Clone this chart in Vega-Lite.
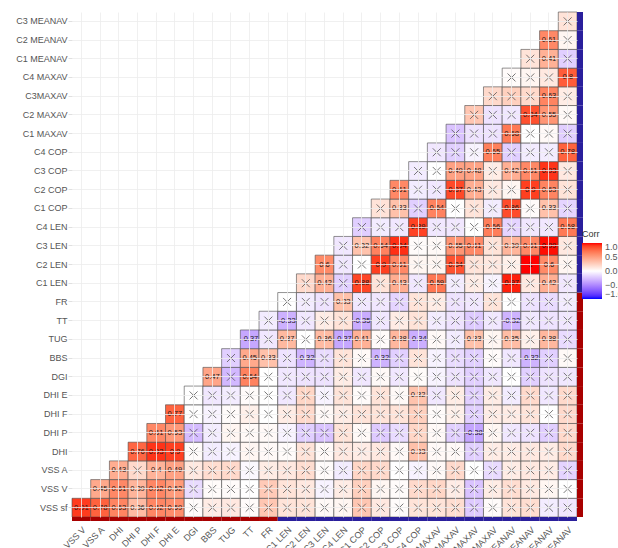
{
"$schema":"https://vega.github.io/schema/vega-lite/v6.json",
"width":505,"height":505,
"autosize":{"type":"none"},
"padding":{"left":72,"top":12,"right":41,"bottom":31},
"background":"white",
"config":{"view":{"stroke":null},"font":"Liberation Sans","text":{"font":"Liberation Sans"}},
"datasets":{
"cells":[
{"row":"VSS sf","col":"VSS V","r":0.91,"sig":1},{"row":"VSS sf","col":"VSS A","r":0.78,"sig":1},{"row":"VSS sf","col":"DHI","r":0.63,"sig":1},{"row":"VSS sf","col":"DHI P","r":0.36,"sig":1},{"row":"VSS sf","col":"DHI F","r":0.62,"sig":1},{"row":"VSS sf","col":"DHI E","r":0.59,"sig":1},{"row":"VSS sf","col":"DGI","r":0.02,"sig":0},{"row":"VSS sf","col":"BBS","r":0.1,"sig":0},{"row":"VSS sf","col":"TUG","r":0.12,"sig":0},{"row":"VSS sf","col":"TT","r":0.02,"sig":0},{"row":"VSS sf","col":"FR","r":0.3,"sig":0},{"row":"VSS sf","col":"C1 LEN","r":0.15,"sig":0},{"row":"VSS sf","col":"C2 LEN","r":0.15,"sig":0},{"row":"VSS sf","col":"C3 LEN","r":0.03,"sig":0},{"row":"VSS sf","col":"C4 LEN","r":0.05,"sig":0},{"row":"VSS sf","col":"C1 COP","r":0.3,"sig":0},{"row":"VSS sf","col":"C2 COP","r":0.12,"sig":0},{"row":"VSS sf","col":"C3 COP","r":0.02,"sig":0},{"row":"VSS sf","col":"C4 COP","r":0.15,"sig":0},{"row":"VSS sf","col":"C1 MAXAV","r":0.15,"sig":0},{"row":"VSS sf","col":"C2 MAXAV","r":0.18,"sig":0},{"row":"VSS sf","col":"C3MAXAV","r":-0.22,"sig":0},{"row":"VSS sf","col":"C4 MAXAV","r":0.02,"sig":0},{"row":"VSS sf","col":"C1 MEANAV","r":0.15,"sig":0},{"row":"VSS sf","col":"C2 MEANAV","r":0.18,"sig":0},{"row":"VSS sf","col":"C3 MEANAV","r":-0.08,"sig":0},{"row":"VSS sf","col":"C4 MEANAV","r":-0.1,"sig":0},
{"row":"VSS V","col":"VSS A","r":0.45,"sig":1},{"row":"VSS V","col":"DHI","r":0.61,"sig":1},{"row":"VSS V","col":"DHI P","r":0.39,"sig":1},{"row":"VSS V","col":"DHI F","r":0.62,"sig":1},{"row":"VSS V","col":"DHI E","r":0.52,"sig":1},{"row":"VSS V","col":"DGI","r":-0.15,"sig":0},{"row":"VSS V","col":"BBS","r":0.02,"sig":0},{"row":"VSS V","col":"TUG","r":0.02,"sig":0},{"row":"VSS V","col":"TT","r":0.0,"sig":0},{"row":"VSS V","col":"FR","r":0.28,"sig":0},{"row":"VSS V","col":"C1 LEN","r":0.15,"sig":0},{"row":"VSS V","col":"C2 LEN","r":0.12,"sig":0},{"row":"VSS V","col":"C3 LEN","r":-0.05,"sig":0},{"row":"VSS V","col":"C4 LEN","r":0.1,"sig":0},{"row":"VSS V","col":"C1 COP","r":0.25,"sig":0},{"row":"VSS V","col":"C2 COP","r":0.05,"sig":0},{"row":"VSS V","col":"C3 COP","r":0.02,"sig":0},{"row":"VSS V","col":"C4 COP","r":0.2,"sig":0},{"row":"VSS V","col":"C1 MAXAV","r":0.22,"sig":0},{"row":"VSS V","col":"C2 MAXAV","r":0.1,"sig":0},{"row":"VSS V","col":"C3MAXAV","r":-0.25,"sig":0},{"row":"VSS V","col":"C4 MAXAV","r":0.1,"sig":0},{"row":"VSS V","col":"C1 MEANAV","r":0.18,"sig":0},{"row":"VSS V","col":"C2 MEANAV","r":0.12,"sig":0},{"row":"VSS V","col":"C3 MEANAV","r":0.05,"sig":0},{"row":"VSS V","col":"C4 MEANAV","r":0.0,"sig":0},
{"row":"VSS A","col":"DHI","r":0.43,"sig":1},{"row":"VSS A","col":"DHI P","r":0.2,"sig":0},{"row":"VSS A","col":"DHI F","r":0.4,"sig":1},{"row":"VSS A","col":"DHI E","r":0.49,"sig":1},{"row":"VSS A","col":"DGI","r":0.12,"sig":0},{"row":"VSS A","col":"BBS","r":0.18,"sig":0},{"row":"VSS A","col":"TUG","r":0.2,"sig":0},{"row":"VSS A","col":"TT","r":-0.03,"sig":0},{"row":"VSS A","col":"FR","r":0.1,"sig":0},{"row":"VSS A","col":"C1 LEN","r":0.12,"sig":0},{"row":"VSS A","col":"C2 LEN","r":0.18,"sig":0},{"row":"VSS A","col":"C3 LEN","r":0.02,"sig":0},{"row":"VSS A","col":"C4 LEN","r":-0.08,"sig":0},{"row":"VSS A","col":"C1 COP","r":0.22,"sig":0},{"row":"VSS A","col":"C2 COP","r":0.2,"sig":0},{"row":"VSS A","col":"C3 COP","r":0.0,"sig":0},{"row":"VSS A","col":"C4 COP","r":-0.05,"sig":0},{"row":"VSS A","col":"C1 MAXAV","r":0.03,"sig":0},{"row":"VSS A","col":"C2 MAXAV","r":0.2,"sig":0},{"row":"VSS A","col":"C3MAXAV","r":0.0,"sig":0},{"row":"VSS A","col":"C4 MAXAV","r":-0.15,"sig":0},{"row":"VSS A","col":"C1 MEANAV","r":0.1,"sig":0},{"row":"VSS A","col":"C2 MEANAV","r":0.12,"sig":0},{"row":"VSS A","col":"C3 MEANAV","r":0.1,"sig":0},{"row":"VSS A","col":"C4 MEANAV","r":-0.18,"sig":0},
{"row":"DHI","col":"DHI P","r":0.76,"sig":1},{"row":"DHI","col":"DHI F","r":0.93,"sig":1},{"row":"DHI","col":"DHI E","r":0.9,"sig":1},{"row":"DHI","col":"DGI","r":0.02,"sig":0},{"row":"DHI","col":"BBS","r":-0.08,"sig":0},{"row":"DHI","col":"TUG","r":-0.05,"sig":0},{"row":"DHI","col":"TT","r":0.05,"sig":0},{"row":"DHI","col":"FR","r":0.03,"sig":0},{"row":"DHI","col":"C1 LEN","r":0.02,"sig":0},{"row":"DHI","col":"C2 LEN","r":0.15,"sig":0},{"row":"DHI","col":"C3 LEN","r":0.03,"sig":0},{"row":"DHI","col":"C4 LEN","r":0.12,"sig":0},{"row":"DHI","col":"C1 COP","r":0.1,"sig":0},{"row":"DHI","col":"C2 COP","r":0.12,"sig":0},{"row":"DHI","col":"C3 COP","r":0.03,"sig":0},{"row":"DHI","col":"C4 COP","r":0.33,"sig":1},{"row":"DHI","col":"C1 MAXAV","r":0.03,"sig":0},{"row":"DHI","col":"C2 MAXAV","r":0.03,"sig":0},{"row":"DHI","col":"C3MAXAV","r":-0.2,"sig":0},{"row":"DHI","col":"C4 MAXAV","r":0.1,"sig":0},{"row":"DHI","col":"C1 MEANAV","r":0.1,"sig":0},{"row":"DHI","col":"C2 MEANAV","r":0.12,"sig":0},{"row":"DHI","col":"C3 MEANAV","r":0.1,"sig":0},{"row":"DHI","col":"C4 MEANAV","r":0.2,"sig":0},
{"row":"DHI P","col":"DHI F","r":0.61,"sig":1},{"row":"DHI P","col":"DHI E","r":0.53,"sig":1},{"row":"DHI P","col":"DGI","r":-0.28,"sig":0},{"row":"DHI P","col":"BBS","r":-0.08,"sig":0},{"row":"DHI P","col":"TUG","r":0.05,"sig":0},{"row":"DHI P","col":"TT","r":0.03,"sig":0},{"row":"DHI P","col":"FR","r":0.03,"sig":0},{"row":"DHI P","col":"C1 LEN","r":-0.05,"sig":0},{"row":"DHI P","col":"C2 LEN","r":-0.2,"sig":0},{"row":"DHI P","col":"C3 LEN","r":-0.25,"sig":0},{"row":"DHI P","col":"C4 LEN","r":0.15,"sig":0},{"row":"DHI P","col":"C1 COP","r":0.03,"sig":0},{"row":"DHI P","col":"C2 COP","r":-0.22,"sig":0},{"row":"DHI P","col":"C3 COP","r":-0.15,"sig":0},{"row":"DHI P","col":"C4 COP","r":0.22,"sig":0},{"row":"DHI P","col":"C1 MAXAV","r":0.03,"sig":0},{"row":"DHI P","col":"C2 MAXAV","r":-0.2,"sig":0},{"row":"DHI P","col":"C3MAXAV","r":-0.38,"sig":1},{"row":"DHI P","col":"C4 MAXAV","r":0.05,"sig":0},{"row":"DHI P","col":"C1 MEANAV","r":-0.1,"sig":0},{"row":"DHI P","col":"C2 MEANAV","r":-0.12,"sig":0},{"row":"DHI P","col":"C3 MEANAV","r":-0.2,"sig":0},{"row":"DHI P","col":"C4 MEANAV","r":0.2,"sig":0},
{"row":"DHI F","col":"DHI E","r":0.77,"sig":1},{"row":"DHI F","col":"DGI","r":0.0,"sig":0},{"row":"DHI F","col":"BBS","r":-0.05,"sig":0},{"row":"DHI F","col":"TUG","r":0.02,"sig":0},{"row":"DHI F","col":"TT","r":0.08,"sig":0},{"row":"DHI F","col":"FR","r":0.0,"sig":0},{"row":"DHI F","col":"C1 LEN","r":0.1,"sig":0},{"row":"DHI F","col":"C2 LEN","r":0.2,"sig":0},{"row":"DHI F","col":"C3 LEN","r":0.03,"sig":0},{"row":"DHI F","col":"C4 LEN","r":0.1,"sig":0},{"row":"DHI F","col":"C1 COP","r":0.15,"sig":0},{"row":"DHI F","col":"C2 COP","r":0.15,"sig":0},{"row":"DHI F","col":"C3 COP","r":0.15,"sig":0},{"row":"DHI F","col":"C4 COP","r":0.25,"sig":0},{"row":"DHI F","col":"C1 MAXAV","r":0.02,"sig":0},{"row":"DHI F","col":"C2 MAXAV","r":0.08,"sig":0},{"row":"DHI F","col":"C3MAXAV","r":-0.2,"sig":0},{"row":"DHI F","col":"C4 MAXAV","r":0.1,"sig":0},{"row":"DHI F","col":"C1 MEANAV","r":0.1,"sig":0},{"row":"DHI F","col":"C2 MEANAV","r":0.15,"sig":0},{"row":"DHI F","col":"C3 MEANAV","r":0.0,"sig":0},{"row":"DHI F","col":"C4 MEANAV","r":0.2,"sig":0},
{"row":"DHI E","col":"DGI","r":0.0,"sig":0},{"row":"DHI E","col":"BBS","r":-0.1,"sig":0},{"row":"DHI E","col":"TUG","r":-0.08,"sig":0},{"row":"DHI E","col":"TT","r":0.02,"sig":0},{"row":"DHI E","col":"FR","r":0.0,"sig":0},{"row":"DHI E","col":"C1 LEN","r":-0.1,"sig":0},{"row":"DHI E","col":"C2 LEN","r":0.22,"sig":0},{"row":"DHI E","col":"C3 LEN","r":-0.05,"sig":0},{"row":"DHI E","col":"C4 LEN","r":0.15,"sig":0},{"row":"DHI E","col":"C1 COP","r":0.02,"sig":0},{"row":"DHI E","col":"C2 COP","r":0.15,"sig":0},{"row":"DHI E","col":"C3 COP","r":0.03,"sig":0},{"row":"DHI E","col":"C4 COP","r":0.32,"sig":1},{"row":"DHI E","col":"C1 MAXAV","r":-0.1,"sig":0},{"row":"DHI E","col":"C2 MAXAV","r":0.1,"sig":0},{"row":"DHI E","col":"C3MAXAV","r":-0.2,"sig":0},{"row":"DHI E","col":"C4 MAXAV","r":0.1,"sig":0},{"row":"DHI E","col":"C1 MEANAV","r":-0.08,"sig":0},{"row":"DHI E","col":"C2 MEANAV","r":0.2,"sig":0},{"row":"DHI E","col":"C3 MEANAV","r":-0.1,"sig":0},{"row":"DHI E","col":"C4 MEANAV","r":0.2,"sig":0},
{"row":"DGI","col":"BBS","r":0.47,"sig":1},{"row":"DGI","col":"TUG","r":-0.3,"sig":0},{"row":"DGI","col":"TT","r":0.64,"sig":1},{"row":"DGI","col":"FR","r":0.0,"sig":0},{"row":"DGI","col":"C1 LEN","r":-0.1,"sig":0},{"row":"DGI","col":"C2 LEN","r":-0.12,"sig":0},{"row":"DGI","col":"C3 LEN","r":-0.12,"sig":0},{"row":"DGI","col":"C4 LEN","r":0.1,"sig":0},{"row":"DGI","col":"C1 COP","r":-0.1,"sig":0},{"row":"DGI","col":"C2 COP","r":0.03,"sig":0},{"row":"DGI","col":"C3 COP","r":-0.1,"sig":0},{"row":"DGI","col":"C4 COP","r":0.02,"sig":0},{"row":"DGI","col":"C1 MAXAV","r":-0.05,"sig":0},{"row":"DGI","col":"C2 MAXAV","r":-0.12,"sig":0},{"row":"DGI","col":"C3MAXAV","r":-0.2,"sig":0},{"row":"DGI","col":"C4 MAXAV","r":-0.1,"sig":0},{"row":"DGI","col":"C1 MEANAV","r":0.0,"sig":0},{"row":"DGI","col":"C2 MEANAV","r":-0.2,"sig":0},{"row":"DGI","col":"C3 MEANAV","r":-0.12,"sig":0},{"row":"DGI","col":"C4 MEANAV","r":-0.1,"sig":0},
{"row":"BBS","col":"TUG","r":-0.2,"sig":0},{"row":"BBS","col":"TT","r":0.45,"sig":1},{"row":"BBS","col":"FR","r":0.33,"sig":1},{"row":"BBS","col":"C1 LEN","r":-0.12,"sig":0},{"row":"BBS","col":"C2 LEN","r":-0.32,"sig":1},{"row":"BBS","col":"C3 LEN","r":-0.15,"sig":0},{"row":"BBS","col":"C4 LEN","r":0.15,"sig":0},{"row":"BBS","col":"C1 COP","r":0.03,"sig":0},{"row":"BBS","col":"C2 COP","r":-0.32,"sig":1},{"row":"BBS","col":"C3 COP","r":-0.2,"sig":0},{"row":"BBS","col":"C4 COP","r":0.15,"sig":0},{"row":"BBS","col":"C1 MAXAV","r":-0.05,"sig":0},{"row":"BBS","col":"C2 MAXAV","r":-0.15,"sig":0},{"row":"BBS","col":"C3MAXAV","r":-0.2,"sig":0},{"row":"BBS","col":"C4 MAXAV","r":0.02,"sig":0},{"row":"BBS","col":"C1 MEANAV","r":-0.1,"sig":0},{"row":"BBS","col":"C2 MEANAV","r":-0.32,"sig":1},{"row":"BBS","col":"C3 MEANAV","r":-0.2,"sig":0},{"row":"BBS","col":"C4 MEANAV","r":0.03,"sig":0},
{"row":"TUG","col":"TT","r":-0.37,"sig":1},{"row":"TUG","col":"FR","r":-0.1,"sig":0},{"row":"TUG","col":"C1 LEN","r":0.37,"sig":1},{"row":"TUG","col":"C2 LEN","r":0.0,"sig":0},{"row":"TUG","col":"C3 LEN","r":0.36,"sig":1},{"row":"TUG","col":"C4 LEN","r":-0.37,"sig":1},{"row":"TUG","col":"C1 COP","r":0.41,"sig":1},{"row":"TUG","col":"C2 COP","r":0.02,"sig":0},{"row":"TUG","col":"C3 COP","r":0.38,"sig":1},{"row":"TUG","col":"C4 COP","r":-0.34,"sig":1},{"row":"TUG","col":"C1 MAXAV","r":0.03,"sig":0},{"row":"TUG","col":"C2 MAXAV","r":-0.08,"sig":0},{"row":"TUG","col":"C3MAXAV","r":0.33,"sig":1},{"row":"TUG","col":"C4 MAXAV","r":0.05,"sig":0},{"row":"TUG","col":"C1 MEANAV","r":0.35,"sig":1},{"row":"TUG","col":"C2 MEANAV","r":0.08,"sig":0},{"row":"TUG","col":"C3 MEANAV","r":0.38,"sig":1},{"row":"TUG","col":"C4 MEANAV","r":-0.15,"sig":0},
{"row":"TT","col":"FR","r":-0.08,"sig":0},{"row":"TT","col":"C1 LEN","r":-0.33,"sig":1},{"row":"TT","col":"C2 LEN","r":-0.1,"sig":0},{"row":"TT","col":"C3 LEN","r":0.1,"sig":0},{"row":"TT","col":"C4 LEN","r":0.15,"sig":0},{"row":"TT","col":"C1 COP","r":-0.35,"sig":1},{"row":"TT","col":"C2 COP","r":-0.1,"sig":0},{"row":"TT","col":"C3 COP","r":0.1,"sig":0},{"row":"TT","col":"C4 COP","r":0.15,"sig":0},{"row":"TT","col":"C1 MAXAV","r":-0.08,"sig":0},{"row":"TT","col":"C2 MAXAV","r":-0.12,"sig":0},{"row":"TT","col":"C3MAXAV","r":-0.22,"sig":0},{"row":"TT","col":"C4 MAXAV","r":-0.1,"sig":0},{"row":"TT","col":"C1 MEANAV","r":-0.32,"sig":1},{"row":"TT","col":"C2 MEANAV","r":-0.1,"sig":0},{"row":"TT","col":"C3 MEANAV","r":-0.12,"sig":0},{"row":"TT","col":"C4 MEANAV","r":-0.1,"sig":0},
{"row":"FR","col":"C1 LEN","r":0.0,"sig":0},{"row":"FR","col":"C2 LEN","r":-0.08,"sig":0},{"row":"FR","col":"C3 LEN","r":-0.12,"sig":0},{"row":"FR","col":"C4 LEN","r":0.33,"sig":1},{"row":"FR","col":"C1 COP","r":-0.1,"sig":0},{"row":"FR","col":"C2 COP","r":-0.1,"sig":0},{"row":"FR","col":"C3 COP","r":-0.18,"sig":0},{"row":"FR","col":"C4 COP","r":0.15,"sig":0},{"row":"FR","col":"C1 MAXAV","r":0.1,"sig":0},{"row":"FR","col":"C2 MAXAV","r":-0.12,"sig":0},{"row":"FR","col":"C3MAXAV","r":-0.1,"sig":0},{"row":"FR","col":"C4 MAXAV","r":0.15,"sig":0},{"row":"FR","col":"C1 MEANAV","r":0.0,"sig":0},{"row":"FR","col":"C2 MEANAV","r":-0.12,"sig":0},{"row":"FR","col":"C3 MEANAV","r":-0.15,"sig":0},{"row":"FR","col":"C4 MEANAV","r":-0.08,"sig":0},
{"row":"C1 LEN","col":"C2 LEN","r":0.2,"sig":0},{"row":"C1 LEN","col":"C3 LEN","r":0.42,"sig":1},{"row":"C1 LEN","col":"C4 LEN","r":-0.2,"sig":0},{"row":"C1 LEN","col":"C1 COP","r":0.88,"sig":1},{"row":"C1 LEN","col":"C2 COP","r":0.15,"sig":0},{"row":"C1 LEN","col":"C3 COP","r":0.43,"sig":1},{"row":"C1 LEN","col":"C4 COP","r":-0.1,"sig":0},{"row":"C1 LEN","col":"C1 MAXAV","r":0.69,"sig":1},{"row":"C1 LEN","col":"C2 MAXAV","r":-0.08,"sig":0},{"row":"C1 LEN","col":"C3MAXAV","r":0.1,"sig":0},{"row":"C1 LEN","col":"C4 MAXAV","r":-0.05,"sig":0},{"row":"C1 LEN","col":"C1 MEANAV","r":0.97,"sig":1},{"row":"C1 LEN","col":"C2 MEANAV","r":0.12,"sig":0},{"row":"C1 LEN","col":"C3 MEANAV","r":0.42,"sig":1},{"row":"C1 LEN","col":"C4 MEANAV","r":-0.1,"sig":0},
{"row":"C2 LEN","col":"C3 LEN","r":0.6,"sig":1},{"row":"C2 LEN","col":"C4 LEN","r":-0.1,"sig":0},{"row":"C2 LEN","col":"C1 COP","r":0.0,"sig":0},{"row":"C2 LEN","col":"C2 COP","r":0.9,"sig":1},{"row":"C2 LEN","col":"C3 COP","r":0.61,"sig":1},{"row":"C2 LEN","col":"C4 COP","r":0.05,"sig":0},{"row":"C2 LEN","col":"C1 MAXAV","r":0.05,"sig":0},{"row":"C2 LEN","col":"C2 MAXAV","r":0.84,"sig":1},{"row":"C2 LEN","col":"C3MAXAV","r":0.15,"sig":0},{"row":"C2 LEN","col":"C4 MAXAV","r":0.12,"sig":0},{"row":"C2 LEN","col":"C1 MEANAV","r":0.08,"sig":0},{"row":"C2 LEN","col":"C2 MEANAV","r":1,"sig":1},{"row":"C2 LEN","col":"C3 MEANAV","r":0.6,"sig":1},{"row":"C2 LEN","col":"C4 MEANAV","r":0.05,"sig":0},
{"row":"C3 LEN","col":"C4 LEN","r":-0.1,"sig":0},{"row":"C3 LEN","col":"C1 COP","r":0.32,"sig":1},{"row":"C3 LEN","col":"C2 COP","r":0.64,"sig":1},{"row":"C3 LEN","col":"C3 COP","r":0.94,"sig":1},{"row":"C3 LEN","col":"C4 COP","r":0.02,"sig":0},{"row":"C3 LEN","col":"C1 MAXAV","r":0.03,"sig":0},{"row":"C3 LEN","col":"C2 MAXAV","r":0.55,"sig":1},{"row":"C3 LEN","col":"C3MAXAV","r":0.61,"sig":1},{"row":"C3 LEN","col":"C4 MAXAV","r":0.15,"sig":0},{"row":"C3 LEN","col":"C1 MEANAV","r":0.39,"sig":1},{"row":"C3 LEN","col":"C2 MEANAV","r":0.61,"sig":1},{"row":"C3 LEN","col":"C3 MEANAV","r":0.99,"sig":1},{"row":"C3 LEN","col":"C4 MEANAV","r":0.12,"sig":0},
{"row":"C4 LEN","col":"C1 COP","r":-0.2,"sig":0},{"row":"C4 LEN","col":"C2 COP","r":-0.08,"sig":0},{"row":"C4 LEN","col":"C3 COP","r":-0.1,"sig":0},{"row":"C4 LEN","col":"C4 COP","r":0.89,"sig":1},{"row":"C4 LEN","col":"C1 MAXAV","r":-0.1,"sig":0},{"row":"C4 LEN","col":"C2 MAXAV","r":-0.1,"sig":0},{"row":"C4 LEN","col":"C3MAXAV","r":0.0,"sig":0},{"row":"C4 LEN","col":"C4 MAXAV","r":0.66,"sig":1},{"row":"C4 LEN","col":"C1 MEANAV","r":-0.18,"sig":0},{"row":"C4 LEN","col":"C2 MEANAV","r":-0.1,"sig":0},{"row":"C4 LEN","col":"C3 MEANAV","r":-0.1,"sig":0},{"row":"C4 LEN","col":"C4 MEANAV","r":0.68,"sig":1},
{"row":"C1 COP","col":"C2 COP","r":0.15,"sig":0},{"row":"C1 COP","col":"C3 COP","r":0.33,"sig":1},{"row":"C1 COP","col":"C4 COP","r":-0.2,"sig":0},{"row":"C1 COP","col":"C1 MAXAV","r":0.64,"sig":1},{"row":"C1 COP","col":"C2 MAXAV","r":0.0,"sig":0},{"row":"C1 COP","col":"C3MAXAV","r":0.15,"sig":0},{"row":"C1 COP","col":"C4 MAXAV","r":-0.08,"sig":0},{"row":"C1 COP","col":"C1 MEANAV","r":0.86,"sig":1},{"row":"C1 COP","col":"C2 MEANAV","r":0.02,"sig":0},{"row":"C1 COP","col":"C3 MEANAV","r":0.33,"sig":1},{"row":"C1 COP","col":"C4 MEANAV","r":-0.18,"sig":0},
{"row":"C2 COP","col":"C3 COP","r":0.61,"sig":1},{"row":"C2 COP","col":"C4 COP","r":-0.08,"sig":0},{"row":"C2 COP","col":"C1 MAXAV","r":-0.1,"sig":0},{"row":"C2 COP","col":"C2 MAXAV","r":0.87,"sig":1},{"row":"C2 COP","col":"C3MAXAV","r":0.43,"sig":1},{"row":"C2 COP","col":"C4 MAXAV","r":0.12,"sig":0},{"row":"C2 COP","col":"C1 MEANAV","r":0.05,"sig":0},{"row":"C2 COP","col":"C2 MEANAV","r":0.9,"sig":1},{"row":"C2 COP","col":"C3 MEANAV","r":0.63,"sig":1},{"row":"C2 COP","col":"C4 MEANAV","r":0.15,"sig":0},
{"row":"C3 COP","col":"C4 COP","r":-0.08,"sig":0},{"row":"C3 COP","col":"C1 MAXAV","r":0.0,"sig":0},{"row":"C3 COP","col":"C2 MAXAV","r":0.49,"sig":1},{"row":"C3 COP","col":"C3MAXAV","r":0.48,"sig":1},{"row":"C3 COP","col":"C4 MAXAV","r":0.1,"sig":0},{"row":"C3 COP","col":"C1 MEANAV","r":0.42,"sig":1},{"row":"C3 COP","col":"C2 MEANAV","r":0.61,"sig":1},{"row":"C3 COP","col":"C3 MEANAV","r":0.93,"sig":1},{"row":"C3 COP","col":"C4 MEANAV","r":0.12,"sig":0},
{"row":"C4 COP","col":"C1 MAXAV","r":-0.1,"sig":0},{"row":"C4 COP","col":"C2 MAXAV","r":-0.2,"sig":0},{"row":"C4 COP","col":"C3MAXAV","r":-0.05,"sig":0},{"row":"C4 COP","col":"C4 MAXAV","r":0.65,"sig":1},{"row":"C4 COP","col":"C1 MEANAV","r":-0.2,"sig":0},{"row":"C4 COP","col":"C2 MEANAV","r":-0.08,"sig":0},{"row":"C4 COP","col":"C3 MEANAV","r":-0.08,"sig":0},{"row":"C4 COP","col":"C4 MEANAV","r":0.78,"sig":1},
{"row":"C1 MAXAV","col":"C2 MAXAV","r":-0.25,"sig":0},{"row":"C1 MAXAV","col":"C3MAXAV","r":-0.12,"sig":0},{"row":"C1 MAXAV","col":"C4 MAXAV","r":-0.12,"sig":0},{"row":"C1 MAXAV","col":"C1 MEANAV","r":0.68,"sig":1},{"row":"C1 MAXAV","col":"C2 MEANAV","r":0.0,"sig":0},{"row":"C1 MAXAV","col":"C3 MEANAV","r":0.03,"sig":0},{"row":"C1 MAXAV","col":"C4 MEANAV","r":-0.2,"sig":0},
{"row":"C2 MAXAV","col":"C3MAXAV","r":0.3,"sig":0},{"row":"C2 MAXAV","col":"C4 MAXAV","r":-0.12,"sig":0},{"row":"C2 MAXAV","col":"C1 MEANAV","r":-0.1,"sig":0},{"row":"C2 MAXAV","col":"C2 MEANAV","r":0.84,"sig":1},{"row":"C2 MAXAV","col":"C3 MEANAV","r":0.55,"sig":1},{"row":"C2 MAXAV","col":"C4 MEANAV","r":0.03,"sig":0},
{"row":"C3MAXAV","col":"C4 MAXAV","r":0.2,"sig":0},{"row":"C3MAXAV","col":"C1 MEANAV","r":0.25,"sig":0},{"row":"C3MAXAV","col":"C2 MEANAV","r":0.2,"sig":0},{"row":"C3MAXAV","col":"C3 MEANAV","r":0.63,"sig":1},{"row":"C3MAXAV","col":"C4 MEANAV","r":0.1,"sig":0},
{"row":"C4 MAXAV","col":"C1 MEANAV","r":0.02,"sig":0},{"row":"C4 MAXAV","col":"C2 MEANAV","r":0.05,"sig":0},{"row":"C4 MAXAV","col":"C3 MEANAV","r":0.12,"sig":0},{"row":"C4 MAXAV","col":"C4 MEANAV","r":0.8,"sig":1},
{"row":"C1 MEANAV","col":"C2 MEANAV","r":0.15,"sig":0},{"row":"C1 MEANAV","col":"C3 MEANAV","r":0.41,"sig":1},{"row":"C1 MEANAV","col":"C4 MEANAV","r":-0.2,"sig":0},
{"row":"C2 MEANAV","col":"C3 MEANAV","r":0.61,"sig":1},{"row":"C2 MEANAV","col":"C4 MEANAV","r":0.05,"sig":0},
{"row":"C3 MEANAV","col":"C4 MEANAV","r":0.15,"sig":0}
],
"groups":[
{"v":"VSS sf","g":"clinical"},{"v":"VSS V","g":"clinical"},{"v":"VSS A","g":"clinical"},{"v":"DHI","g":"clinical"},{"v":"DHI P","g":"clinical"},{"v":"DHI F","g":"clinical"},{"v":"DHI E","g":"clinical"},{"v":"DGI","g":"clinical"},{"v":"BBS","g":"clinical"},{"v":"TUG","g":"clinical"},{"v":"TT","g":"clinical"},{"v":"FR","g":"clinical"},
{"v":"C1 LEN","g":"posturographic"},{"v":"C2 LEN","g":"posturographic"},{"v":"C3 LEN","g":"posturographic"},{"v":"C4 LEN","g":"posturographic"},{"v":"C1 COP","g":"posturographic"},{"v":"C2 COP","g":"posturographic"},{"v":"C3 COP","g":"posturographic"},{"v":"C4 COP","g":"posturographic"},{"v":"C1 MAXAV","g":"posturographic"},{"v":"C2 MAXAV","g":"posturographic"},{"v":"C3MAXAV","g":"posturographic"},{"v":"C4 MAXAV","g":"posturographic"},{"v":"C1 MEANAV","g":"posturographic"},{"v":"C2 MEANAV","g":"posturographic"},{"v":"C3 MEANAV","g":"posturographic"},{"v":"C4 MEANAV","g":"posturographic"}
]
},
"layer":[
{
"data":{"name":"cells"},
"mark":{"type":"rect","stroke":"#4a4a4a","strokeWidth":0.6},
"encoding":{
"x":{"field":"col","type":"nominal","scale":{"domain":["VSS V","VSS A","DHI","DHI P","DHI F","DHI E","DGI","BBS","TUG","TT","FR","C1 LEN","C2 LEN","C3 LEN","C4 LEN","C1 COP","C2 COP","C3 COP","C4 COP","C1 MAXAV","C2 MAXAV","C3MAXAV","C4 MAXAV","C1 MEANAV","C2 MEANAV","C3 MEANAV","C4 MEANAV"],"paddingInner":0,"paddingOuter":0},
"axis":{"title":null,"labelAngle":-45,"labelFontSize":9,"labelColor":"#555","labelFont":"Liberation Sans","ticks":false,"labelPadding":8,"domain":false,"grid":true,"gridColor":"#ececec","gridWidth":0.8,"bandPosition":0.5}},
"y":{"field":"row","type":"nominal","scale":{"domain":["C3 MEANAV","C2 MEANAV","C1 MEANAV","C4 MAXAV","C3MAXAV","C2 MAXAV","C1 MAXAV","C4 COP","C3 COP","C2 COP","C1 COP","C4 LEN","C3 LEN","C2 LEN","C1 LEN","FR","TT","TUG","BBS","DGI","DHI E","DHI F","DHI P","DHI","VSS A","VSS V","VSS sf"],"paddingInner":0,"paddingOuter":0},
"axis":{"title":null,"labelFontSize":9,"labelColor":"#555","labelFont":"Liberation Sans","ticks":true,"tickColor":"#e0e0e0","tickSize":4,"labelPadding":1,"domain":false,"grid":true,"gridColor":"#ececec","gridWidth":0.8,"bandPosition":0.5}},
"color":{"field":"r","type":"quantitative","scale":{"domain":[-1,0,1],"range":["blue","white","red"],"interpolate":"lab"},
"legend":{"title":"Corr","orient":"none","legendX":510,"legendY":218,"direction":"vertical","gradientLength":56,"gradientThickness":20,"gradientStrokeWidth":0,"values":[1,0.5,0,-0.5,-1],"format":".1f","labelFontSize":9,"labelColor":"#555","labelFont":"Liberation Sans","titleFont":"Liberation Sans","titleFontSize":9,"titleFontWeight":"normal","titleColor":"#333","titlePadding":4,"labelOffset":3}}
}
},
{
"data":{"name":"cells"},
"transform":[{"filter":"datum.sig == 1"}],
"mark":{"type":"text","fontSize":7.5,"color":"#1a1a1a","font":"Liberation Sans"},
"encoding":{
"x":{"field":"col","type":"nominal","scale":{"domain":["VSS V","VSS A","DHI","DHI P","DHI F","DHI E","DGI","BBS","TUG","TT","FR","C1 LEN","C2 LEN","C3 LEN","C4 LEN","C1 COP","C2 COP","C3 COP","C4 COP","C1 MAXAV","C2 MAXAV","C3MAXAV","C4 MAXAV","C1 MEANAV","C2 MEANAV","C3 MEANAV","C4 MEANAV"]}},
"y":{"field":"row","type":"nominal","scale":{"domain":["C3 MEANAV","C2 MEANAV","C1 MEANAV","C4 MAXAV","C3MAXAV","C2 MAXAV","C1 MAXAV","C4 COP","C3 COP","C2 COP","C1 COP","C4 LEN","C3 LEN","C2 LEN","C1 LEN","FR","TT","TUG","BBS","DGI","DHI E","DHI F","DHI P","DHI","VSS A","VSS V","VSS sf"]}},
"text":{"field":"r","type":"nominal"}
}
},
{
"data":{"name":"cells"},
"transform":[{"filter":"datum.sig == 0"}],
"mark":{"type":"point","shape":"M-1,-1L1,1M-1,1L1,-1","filled":false,"stroke":"#555","strokeWidth":0.8,"size":64,"opacity":1},
"encoding":{
"x":{"field":"col","type":"nominal","scale":{"domain":["VSS V","VSS A","DHI","DHI P","DHI F","DHI E","DGI","BBS","TUG","TT","FR","C1 LEN","C2 LEN","C3 LEN","C4 LEN","C1 COP","C2 COP","C3 COP","C4 COP","C1 MAXAV","C2 MAXAV","C3MAXAV","C4 MAXAV","C1 MEANAV","C2 MEANAV","C3 MEANAV","C4 MEANAV"]}},
"y":{"field":"row","type":"nominal","scale":{"domain":["C3 MEANAV","C2 MEANAV","C1 MEANAV","C4 MAXAV","C3MAXAV","C2 MAXAV","C1 MAXAV","C4 COP","C3 COP","C2 COP","C1 COP","C4 LEN","C3 LEN","C2 LEN","C1 LEN","FR","TT","TUG","BBS","DGI","DHI E","DHI F","DHI P","DHI","VSS A","VSS V","VSS sf"]}}
}
},
{
"data":{"name":"groups"},
"transform":[{"filter":"datum.v != 'VSS sf'"}],
"mark":{"type":"rect","y":{"expr":"height"},"y2":{"expr":"height + 4"}},
"encoding":{
"x":{"field":"v","type":"nominal","scale":{"domain":["VSS V","VSS A","DHI","DHI P","DHI F","DHI E","DGI","BBS","TUG","TT","FR","C1 LEN","C2 LEN","C3 LEN","C4 LEN","C1 COP","C2 COP","C3 COP","C4 COP","C1 MAXAV","C2 MAXAV","C3MAXAV","C4 MAXAV","C1 MEANAV","C2 MEANAV","C3 MEANAV","C4 MEANAV"]}},
"fill":{"field":"g","type":"nominal","scale":{"domain":["clinical","posturographic"],"range":["#a80000","#2a1f9c"]},"legend":null}
}
},
{
"data":{"name":"groups"},
"transform":[{"filter":"datum.v != 'C4 MEANAV'"}],
"mark":{"type":"rect","x":{"expr":"width"},"x2":{"expr":"width + 6"}},
"encoding":{
"y":{"field":"v","type":"nominal","scale":{"domain":["C3 MEANAV","C2 MEANAV","C1 MEANAV","C4 MAXAV","C3MAXAV","C2 MAXAV","C1 MAXAV","C4 COP","C3 COP","C2 COP","C1 COP","C4 LEN","C3 LEN","C2 LEN","C1 LEN","FR","TT","TUG","BBS","DGI","DHI E","DHI F","DHI P","DHI","VSS A","VSS V","VSS sf"]}},
"fill":{"field":"g","type":"nominal","scale":{"domain":["clinical","posturographic"],"range":["#a80000","#2a1f9c"]},"legend":null}
}
}
]
}
